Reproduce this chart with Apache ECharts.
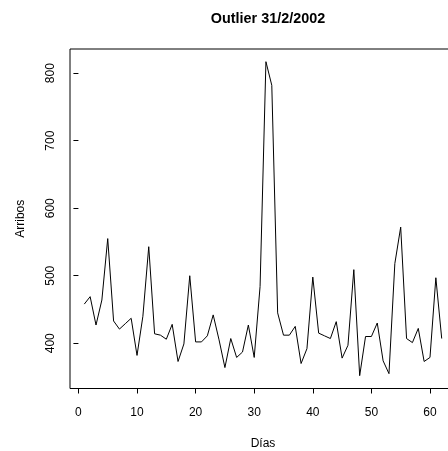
<!DOCTYPE html>
<html>
<head>
<meta charset="utf-8">
<script src="https://cdn.jsdelivr.net/npm/echarts@6/dist/echarts.min.js"></script>
<style>html,body{margin:0;padding:0;background:#fff}#c{width:448px;height:451px}</style>
</head>
<body>
<div id="c"></div>
<script>
const titleText = "Outlier 31/2/2002";
const xName = "Días";
const yName = "Arribos";
const dias = [1,2,3,4,5,6,7,8,9,10,11,12,13,14,15,16,17,18,19,20,21,22,23,24,25,26,27,28,29,30,31,32,33,34,35,36,37,38,39,40,41,42,43,44,45,46,47,48,49,50,51,52,53,54,55,56,57,58,59,60,61,62];
const arribos = [458,469,427,464,555,433,421,429,437,382,440,543,414,412,406,428,373,399,500,402,402,411,442,405,364,407,379,387,427,379,484,817,782,445,412,412,425,370,392,498,415,411,407,432,378,397,509,352,410,410,430,374,355,518,572,407,401,422,373,379,497,407];
const xTicks = [0,10,20,30,40,50,60];
const yTicks = [400,500,600,700,800];

const font = "'Liberation Sans', Arial, Helvetica, sans-serif";
const chart = echarts.init(document.getElementById('c'), null, {renderer: 'canvas'});
chart.setOption({
  animation: false,
  backgroundColor: '#ffffff',
  title: {
    text: titleText,
    left: 263, top: 7, textAlign: 'center',
    textStyle: {fontFamily: font, fontWeight: 'bold', fontSize: 14.4, color: '#000'}
  },
  grid: {left: 70, top: 49, width: 386, height: 339.5, show: true, borderColor: '#000', borderWidth: 1, backgroundColor: 'transparent', outerBoundsMode: 'none', containLabel: false},
  xAxis: {
    type: 'value', min: -1.44, max: 64.44,
    name: xName, nameLocation: 'middle', nameGap: 49,
    nameTextStyle: {fontFamily: font, fontSize: 12, color: '#000'},
    splitLine: {show: false},
    axisLine: {show: false},
    axisTick: {show: true, length: 5, customValues: xTicks, lineStyle: {color: '#000'}},
    axisLabel: {customValues: xTicks, margin: 18, fontFamily: font, fontSize: 12, color: '#000'}
  },
  yAxis: {
    type: 'value', min: 333, max: 835.8,
    name: yName, nameLocation: 'middle', nameGap: 43, nameRotate: 90,
    nameTextStyle: {fontFamily: font, fontSize: 12, color: '#000'},
    splitLine: {show: false},
    axisLine: {show: false},
    axisTick: {show: true, length: 5, customValues: yTicks, lineStyle: {color: '#000'}},
    axisLabel: {customValues: yTicks, rotate: 90, margin: 13, fontFamily: font, fontSize: 12, color: '#000'}
  },
  series: [{
    type: 'line',
    data: dias.map((d, i) => [d, arribos[i]]),
    showSymbol: false,
    lineStyle: {color: '#000', width: 1},
    itemStyle: {color: '#000'}
  }]
});
</script>
</body>
</html>
